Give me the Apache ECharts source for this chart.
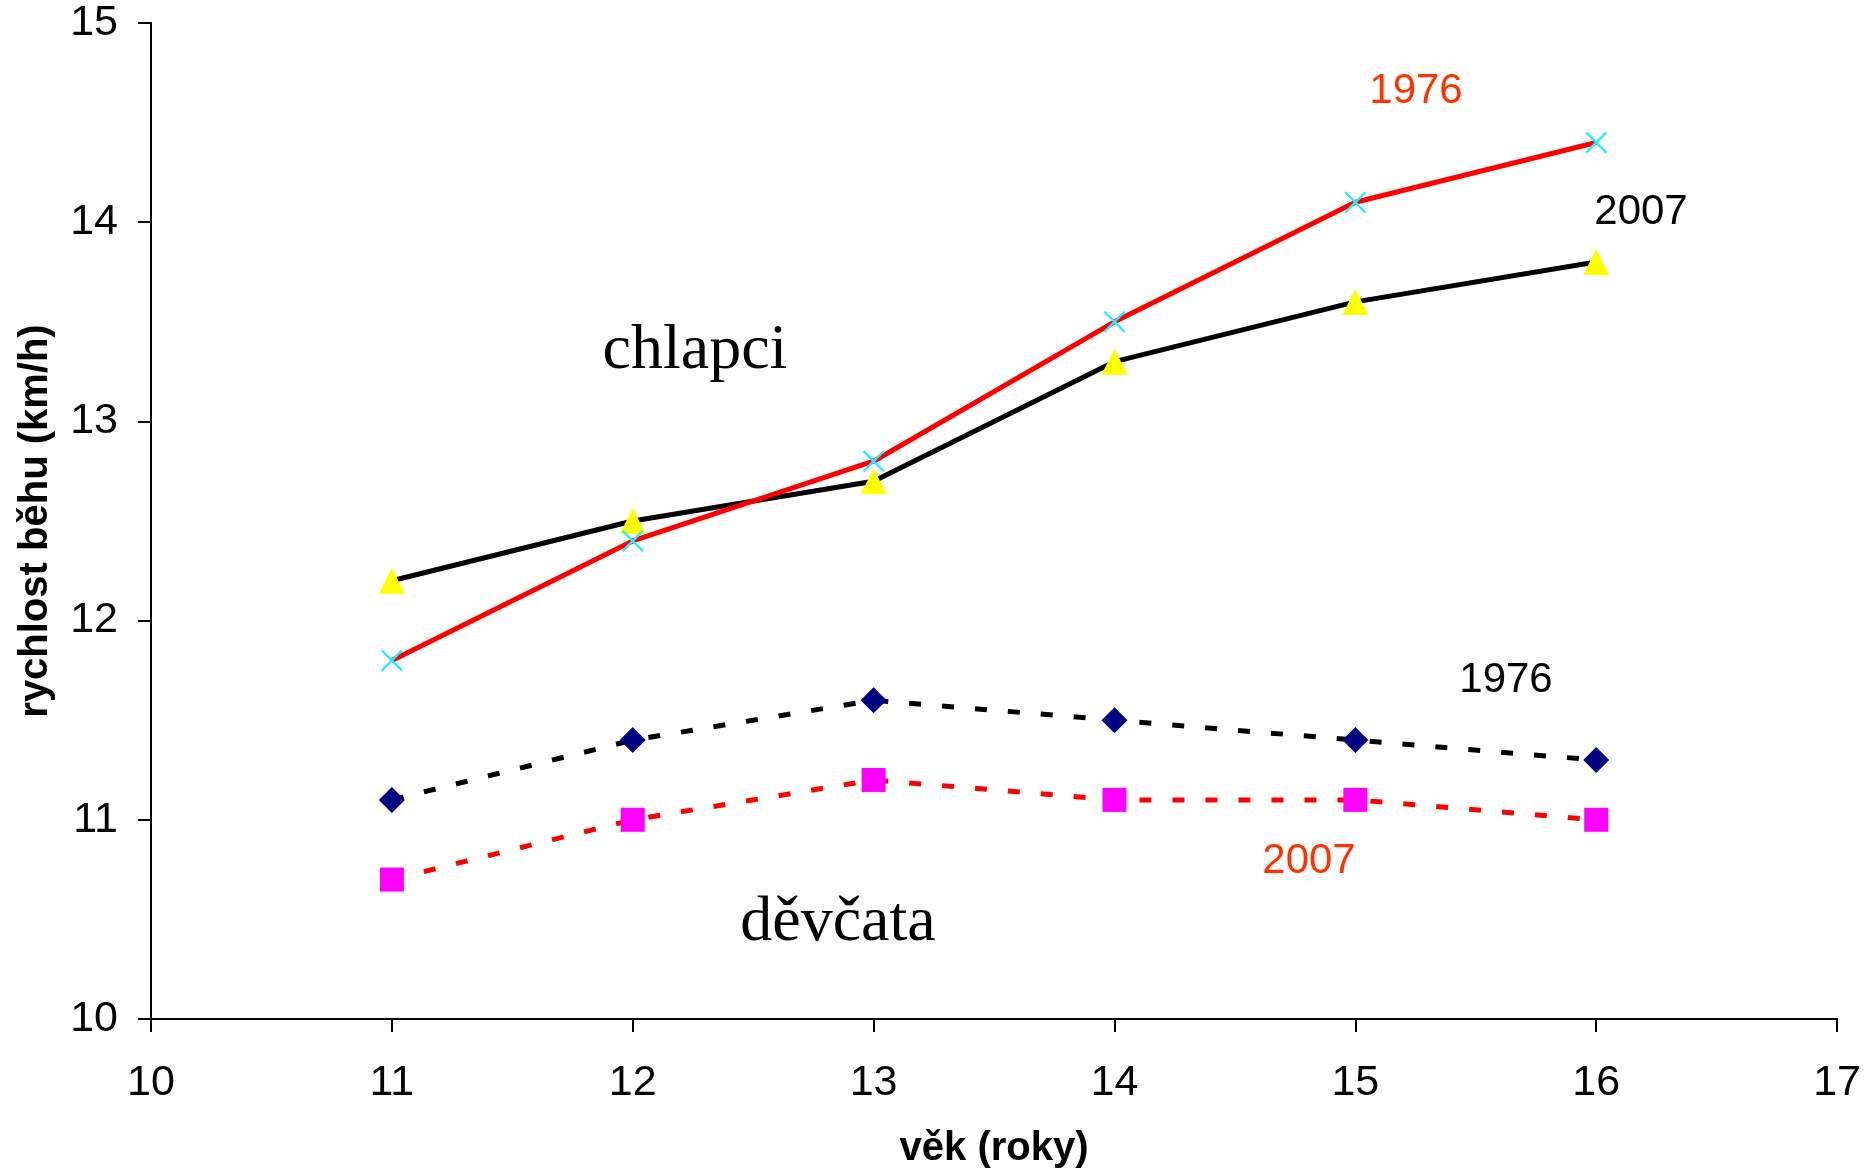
<!DOCTYPE html>
<html>
<head>
<meta charset="utf-8">
<script src="https://cdn.jsdelivr.net/npm/echarts@6/dist/echarts.min.js"></script>
<style>
html,body{margin:0;padding:0;background:#fff;}
#c{width:1864px;height:1176px;}
</style>
</head>
<body>
<div id="c"></div>
<script>
// Data
var ages = [11, 12, 13, 14, 15, 16];
var boys1976 = [11.8, 12.4, 12.8, 13.5, 14.1, 14.4];
var boys2007 = [12.2, 12.5, 12.7, 13.3, 13.6, 13.8];
var girls1976 = [11.1, 11.4, 11.6, 11.5, 11.4, 11.3];
var girls2007 = [10.7, 11.0, 11.2, 11.1, 11.1, 11.0];
var xTitle = 'věk (roky)';
var yTitle = 'rychlost běhu (km/h)';

function pairs(vals) {
  return ages.map(function (a, i) { return [a, vals[i]]; });
}

var crossPath = 'path://M0,1.5L1.5,0L10,8.5L18.5,0L20,1.5L11.5,10L20,18.5L18.5,20L10,11.5L1.5,20L0,18.5L8.5,10Z';

var chart = echarts.init(document.getElementById('c'));
var sansFont = 'Liberation Sans, Arial, sans-serif';
var serifFont = 'Liberation Serif, Times New Roman, serif';

chart.setOption({
  animation: false,
  backgroundColor: '#ffffff',
  grid: { left: 151, right: 26, top: 23, bottom: 157 },
  xAxis: {
    type: 'value', min: 10, max: 17, interval: 1,
    name: xTitle, nameLocation: 'middle', nameGap: 110,
    nameTextStyle: { fontFamily: sansFont, fontSize: 40, fontWeight: 'bold', color: '#000' },
    axisLine: { show: true, lineStyle: { color: '#000', width: 2 } },
    axisTick: { show: true, length: 13, lineStyle: { color: '#000', width: 2 } },
    axisLabel: { fontFamily: sansFont, fontSize: 43, color: '#000', margin: 43 },
    splitLine: { show: false }
  },
  yAxis: {
    type: 'value', min: 10, max: 15, interval: 1,
    name: yTitle, nameLocation: 'middle', nameGap: 95, nameRotate: 90,
    nameTextStyle: { fontFamily: sansFont, fontSize: 40, fontWeight: 'bold', color: '#000' },
    axisLine: { show: true, lineStyle: { color: '#000', width: 2 } },
    axisTick: { show: true, length: 13, lineStyle: { color: '#000', width: 2 } },
    axisLabel: { fontFamily: sansFont, fontSize: 43, color: '#000', margin: 33 },
    splitLine: { show: false }
  },
  series: [
    {
      name: 'chlapci 2007', type: 'line', data: pairs(boys2007),
      lineStyle: { color: '#000000', width: 5 },
      symbol: 'triangle', symbolSize: 26, showAllSymbol: true,
      itemStyle: { color: '#FFFF00', borderWidth: 0 },
      z: 2
    },
    {
      name: 'chlapci 1976', type: 'line', data: pairs(boys1976),
      lineStyle: { color: '#FF0000', width: 5 },
      symbol: crossPath, symbolSize: 22, showAllSymbol: true,
      itemStyle: { color: '#22EEFF', borderWidth: 0 },
      z: 3
    },
    {
      name: 'děvčata 1976', type: 'line', data: pairs(girls1976),
      lineStyle: { color: '#000000', width: 5, type: [12, 21] },
      symbol: 'diamond', symbolSize: 26, showAllSymbol: true,
      itemStyle: { color: '#000080', borderWidth: 0 },
      z: 2
    },
    {
      name: 'děvčata 2007', type: 'line', data: pairs(girls2007),
      lineStyle: { color: '#FF0000', width: 5, type: [12, 21] },
      symbol: 'rect', symbolSize: 24, showAllSymbol: true,
      itemStyle: { color: '#FF00FF', borderWidth: 0 },
      z: 2
    }
  ],
  graphic: [
    { type: 'text', x: 1416, y: 91, style: { text: '1976', fill: '#FF3300', font: '42px ' + sansFont, textAlign: 'center', textVerticalAlign: 'middle' } },
    { type: 'text', x: 1641, y: 212, style: { text: '2007', fill: '#000000', font: '42px ' + sansFont, textAlign: 'center', textVerticalAlign: 'middle' } },
    { type: 'text', x: 1506, y: 680, style: { text: '1976', fill: '#000000', font: '42px ' + sansFont, textAlign: 'center', textVerticalAlign: 'middle' } },
    { type: 'text', x: 1309, y: 861, style: { text: '2007', fill: '#FF3300', font: '42px ' + sansFont, textAlign: 'center', textVerticalAlign: 'middle' } },
    { type: 'text', x: 695, y: 351, style: { text: 'chlapci', fill: '#000000', font: '64px ' + serifFont, textAlign: 'center', textVerticalAlign: 'middle' } },
    { type: 'text', x: 838, y: 923, style: { text: 'děvčata', fill: '#000000', font: '64px ' + serifFont, textAlign: 'center', textVerticalAlign: 'middle' } }
  ]
});
</script>
</body>
</html>
